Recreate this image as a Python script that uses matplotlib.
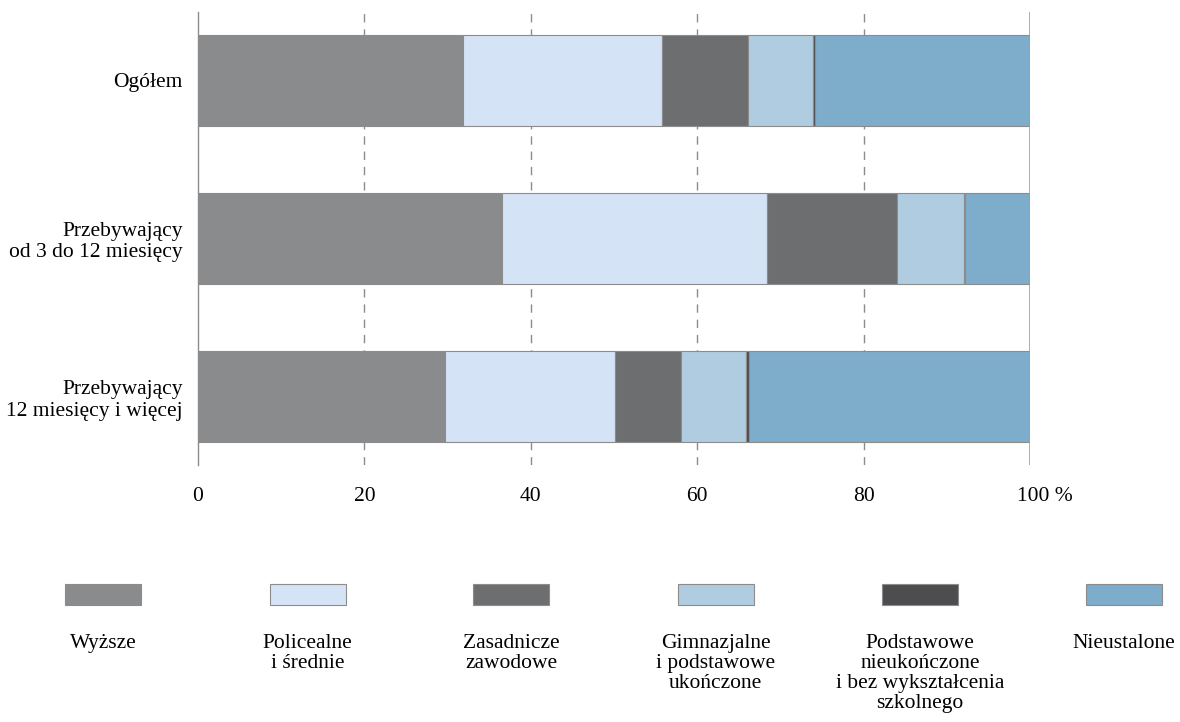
import matplotlib.pyplot as plt
import matplotlib.patches as mpatches
import matplotlib.transforms as mtransforms
import numpy as np

plt.rcParams['font.family'] = ['Liberation Serif', 'DejaVu Serif']

groups = ['Ogółem', 'Przebywający\nod 3 do 12 miesięcy', 'Przebywający\n12 miesięcy i więcej']
categories = ['Wyższe', 'Policealne\ni średnie', 'Zasadnicze\nzawodowe',
              'Gimnazjalne\ni podstawowe\nukończone',
              'Podstawowe\nnieukończone\ni bez wykształcenia\nszkolnego', 'Nieustalone']
colors = ['#8a8b8d', '#d4e3f5', '#6d6e70', '#b0cce1', '#4d4d4f', '#7eaccb']

# percent shares per group (Ogółem, 3-12 mies., 12+ mies.)
wyzsze = [31.8, 36.5, 29.7]
policealne = [24.0, 31.9, 20.4]
zasadnicze = [10.3, 15.6, 7.9]
gimnazjalne = [7.8, 8.1, 7.9]
podstawowe = [0.3, 0.1, 0.3]
nieustalone = [25.8, 7.8, 33.8]
series = [wyzsze, policealne, zasadnicze, gimnazjalne, podstawowe, nieustalone]

fs = 15.5

fig = plt.figure(figsize=(11.8, 7.22), dpi=100)
ax = fig.add_axes([198/1180, 1 - 465/722, 832/1180, 453/722])

y = np.arange(len(groups))
left = np.zeros(len(groups))
for vals, c in zip(series, colors):
    ax.barh(y, vals, left=left, height=0.575, color=c, edgecolor='#8c8c8c', linewidth=0.8, zorder=3)
    left += np.array(vals)

ax.set_xlim(0, 100)
ax.set_ylim(2.43, -0.43)
ax.set_yticks(y)
ax.set_yticklabels(groups, fontsize=fs, linespacing=1.16)
ax.set_xticks([0, 20, 40, 60, 80, 100])
ax.set_xticklabels(['0', '20', '40', '60', '80', '100 %'], fontsize=fs)
ax.tick_params(axis='y', length=0, pad=11)
ax.tick_params(axis='x', length=0, pad=16)
last = ax.get_xticklabels()[-1]
last.set_horizontalalignment('left')
last.set_transform(last.get_transform()
                   + mtransforms.ScaledTranslation(-13/100, 0, fig.dpi_scale_trans))

for v in [20, 40, 60, 80]:
    ax.axvline(v, color='#8c8c8c', linewidth=1, linestyle=(0, (6, 5)), zorder=1)
ax.axvline(100, color='#a0a0a0', linewidth=1.2, zorder=4)

for s in ['top', 'bottom', 'right']:
    ax.spines[s].set_visible(False)
ax.spines['left'].set_color('#8c8c8c')
ax.spines['left'].set_linewidth(1)

# legend below the chart
centers = [103, 307.5, 511.5, 715.5, 920, 1124]
for cx, c, lab in zip(centers, colors, categories):
    r = mpatches.Rectangle(((cx - 38) / 1180, 1 - 605/722), 76/1180, 21/722,
                           transform=fig.transFigure, facecolor=c, edgecolor='#8c8c8c', linewidth=0.8)
    fig.add_artist(r)
    fig.text(cx / 1180, 1 - 634/722, lab, ha='center', va='top', fontsize=fs, linespacing=1.08)

fig.savefig('out.png', dpi=100)
